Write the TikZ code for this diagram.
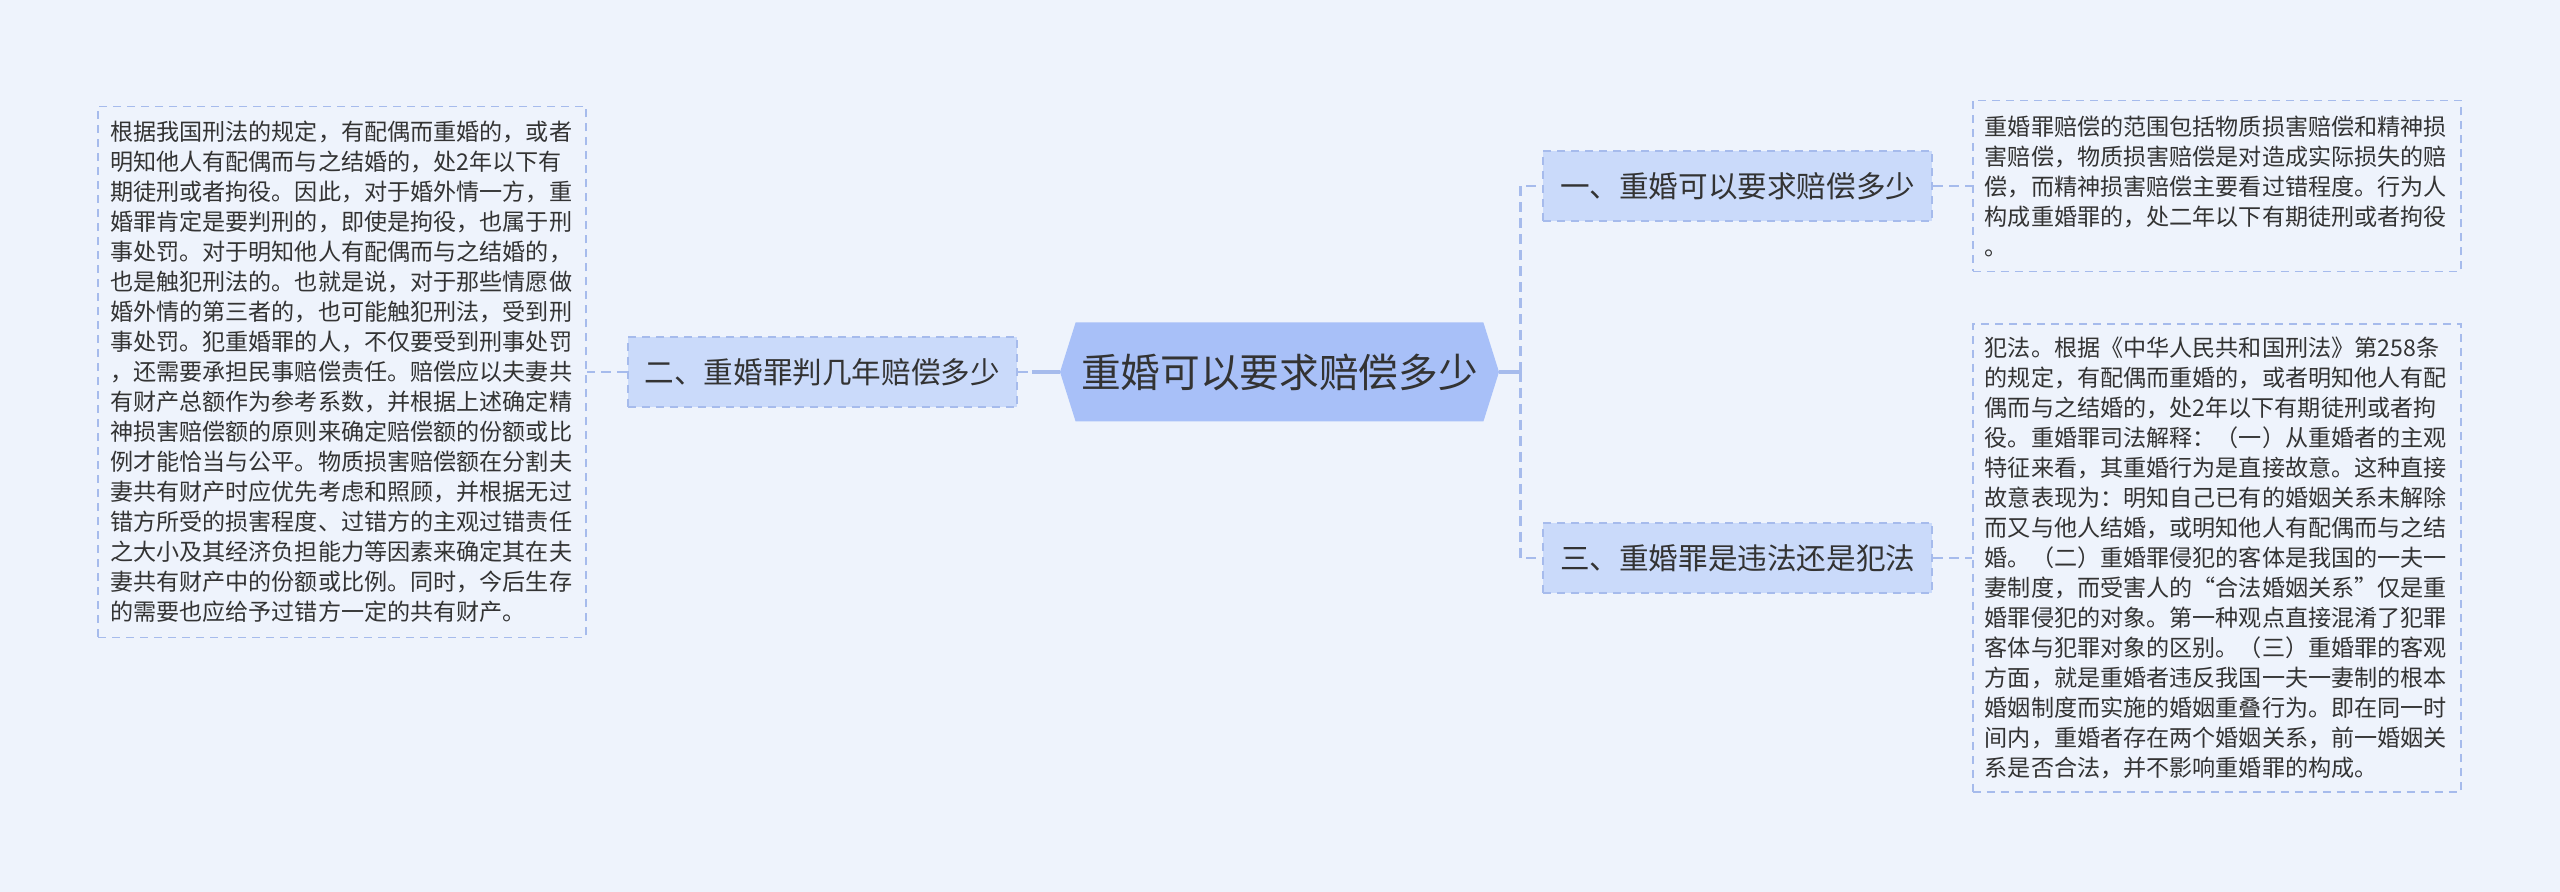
\documentclass[tikz,border=0pt]{standalone}
\usepackage{fontspec}
\setmainfont{Noto Sans CJK SC}
\usetikzlibrary{shapes,positioning}
\definecolor{Paper}{HTML}{EEF3FC}
\definecolor{TopicFill}{HTML}{A8C0F8}
\definecolor{BranchFill}{HTML}{CADAFA}
\definecolor{LinkBlue}{HTML}{A6BBEC}
\definecolor{Ink}{HTML}{333333}
\tikzstyle{Topic} = [signal, signal to=west and east, signal pointer angle=145, fill=TopicFill, text=Ink, font=\fontsize{19.85pt}{24pt}\selectfont, minimum width=219.5pt, minimum height=49.5pt, inner sep=0pt]
\tikzstyle{Branch} = [draw=LinkBlue, line width=0.8pt, dash pattern=on 4pt off 3pt, fill=BranchFill, rectangle, minimum width=194.5pt, minimum height=35pt, inner sep=0pt, text=Ink, font=\fontsize{14.8pt}{18pt}\selectfont]
\tikzstyle{Note} = [draw=LinkBlue, line width=0.8pt, dash pattern=on 4pt off 3pt, rectangle, align=left, text width=232pt, inner xsep=6pt, inner ysep=0pt, text=Ink, font=\fontsize{11.55pt}{15pt}\selectfont]
\tikzstyle{Link} = [draw=LinkBlue, line width=0.9pt, dash pattern=on 5pt off 3pt]
\tikzstyle{Stub} = [draw=LinkBlue, line width=1.6pt]

\begin{document}
\begin{tikzpicture}[x=0.5pt,y=-0.5pt]
    \useasboundingbox[fill=Paper] (0,0) rectangle (2560,892);
    % centre and branches
    \node[Topic]  (hub)                                    at (1279.5,372) {重婚可以要求赔偿多少};
    \node[Branch] (b_two)   [left=21pt of hub]                  {二、重婚罪判几年赔偿多少};
    \node[Branch] (b_one)   [right=21.5pt of hub, yshift=93pt]  {一、重婚可以要求赔偿多少};
    \node[Branch] (b_three) [right=21.5pt of hub, yshift=-93pt] {三、重婚罪是违法还是犯法};
    % notes
    \node[Note, minimum height=265.5pt] (n_two) [left=20pt of b_two] {根据我国刑法的规定，有配偶而重婚的，或者\\明知他人有配偶而与之结婚的，处2年以下有\\期徒刑或者拘役。因此，对于婚外情一方，重\\婚罪肯定是要判刑的，即使是拘役，也属于刑\\事处罚。对于明知他人有配偶而与之结婚的，\\也是触犯刑法的。也就是说，对于那些情愿做\\婚外情的第三者的，也可能触犯刑法，受到刑\\事处罚。犯重婚罪的人，不仅要受到刑事处罚\\，还需要承担民事赔偿责任。赔偿应以夫妻共\\有财产总额作为参考系数，并根据上述确定精\\神损害赔偿额的原则来确定赔偿额的份额或比\\例才能恰当与公平。物质损害赔偿额在分割夫\\妻共有财产时应优先考虑和照顾，并根据无过\\错方所受的损害程度、过错方的主观过错责任\\之大小及其经济负担能力等因素来确定其在夫\\妻共有财产中的份额或比例。同时，今后生存\\的需要也应给予过错方一定的共有财产。};
    \node[Note, minimum height=85.5pt] (n_one) [right=19.5pt of b_one] {重婚罪赔偿的范围包括物质损害赔偿和精神损\\害赔偿，物质损害赔偿是对造成实际损失的赔\\偿，而精神损害赔偿主要看过错程度。行为人\\构成重婚罪的，处二年以下有期徒刑或者拘役\\。};
    \node[Note, minimum height=234pt] (n_three) [right=19.5pt of b_three] {犯法。根据《中华人民共和国刑法》第258条\\的规定，有配偶而重婚的，或者明知他人有配\\偶而与之结婚的，处2年以下有期徒刑或者拘\\役。重婚罪司法解释：（一）从重婚者的主观\\特征来看，其重婚行为是直接故意。这种直接\\故意表现为：明知自己已有的婚姻关系未解除\\而又与他人结婚，或明知他人有配偶而与之结\\婚。（二）重婚罪侵犯的客体是我国的一夫一\\妻制度，而受害人的“合法婚姻关系”仅是重\\婚罪侵犯的对象。第一种观点直接混淆了犯罪\\客体与犯罪对象的区别。（三）重婚罪的客观\\方面，就是重婚者违反我国一夫一妻制的根本\\婚姻制度而实施的婚姻重叠行为。即在同一时\\间内，重婚者存在两个婚姻关系，前一婚姻关\\系是否合法，并不影响重婚罪的构成。};
    % connectors
    \coordinate (fork) at ([xshift=10.5pt]hub.east);
    \draw[Stub] (hub.east) -- (fork);
    \draw[Link, line width=1.3pt] (fork) |- (b_one.west);
    \draw[Link, line width=1.3pt] (fork) |- (b_three.west);
    \draw[Link] (hub.west) -- (b_two.east);
    \draw[Stub] (hub.west) -- ++(-28,0);
    \draw[Link] (b_two.west)   -- (n_two.east);
    \draw[Link] (b_one.east)   -- (n_one.west);
    \draw[Link] (b_three.east) -- (n_three.west);
\end{tikzpicture}
\end{document}
